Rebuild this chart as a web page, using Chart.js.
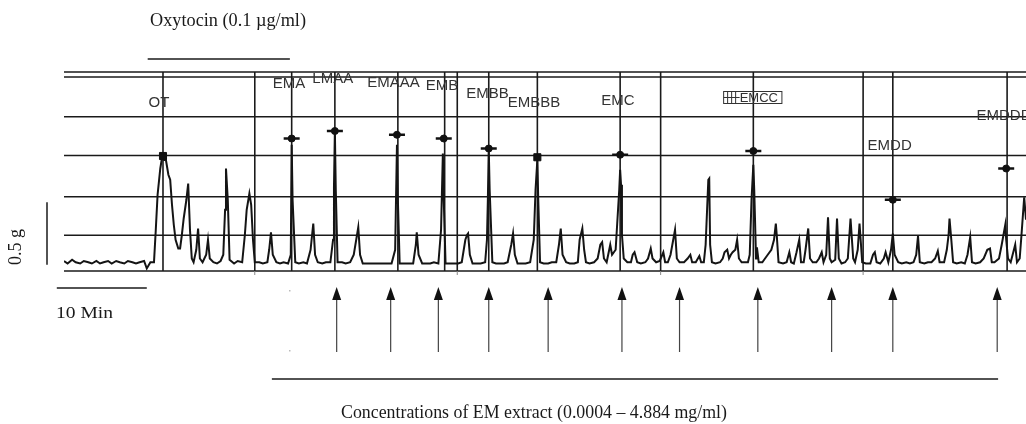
<!DOCTYPE html>
<html>
<head>
<meta charset="utf-8">
<script src="https://cdn.jsdelivr.net/npm/chart.js@4/dist/chart.umd.min.js"></script>
<style>
  html, body { margin: 0; padding: 0; background: #fff; }
  #wrap { width: 1026px; height: 424px; }
</style>
</head>
<body>
<div id="wrap"><canvas id="c" width="1026" height="424"></canvas></div>
<script>
// ---- Data (time in minutes, tension in grams) ----
const traceTime = [
  0,0.4,0.9,1.3,1.8,2.2,2.7,3.1,3.6,4.0,4.4,4.9,5.3,5.8,6.2,6.7,7.1,7.6,8.0,8.4,8.9,9.2,9.6,10.0,
  10.2,10.4,10.7,10.9,11.1,11.3,11.6,11.8,12.0,12.2,12.4,12.7,12.9,13.1,13.3,13.6,13.8,14.0,14.2,14.4,14.7,14.9,15.1,15.4,15.8,16.0,16.2,16.6,17.0,17.4,17.7,17.9,18.0,18.2,18.4,
  18.9,19.3,19.8,20.1,20.3,20.6,20.8,21.0,21.2,21.7,22.1,22.6,22.8,23.0,23.2,23.6,24.0,24.4,24.9,
  25.2,25.3,25.4,25.7,26.1,26.6,27.0,27.4,27.7,27.9,28.2,28.7,29.1,29.6,
  29.9,30.0,30.1,30.2,30.4,30.9,31.3,31.8,32.2,32.7,32.9,33.2,33.8,34.3,34.9,35.4,36.0,36.4,
  36.8,37.0,37.1,37.3,37.8,38.2,38.8,39.1,39.2,39.4,39.8,40.2,40.7,41.1,41.6,
  41.9,42.1,42.2,42.4,42.9,43.3,43.8,44.2,44.6,44.8,44.9,45.1,45.4,45.9,46.3,46.8,
  47.0,47.1,47.2,47.3,47.6,48.0,48.4,48.9,49.3,49.7,49.9,50.1,50.4,50.9,51.3,51.8,
  52.2,52.4,52.6,52.7,52.9,53.3,53.8,54.2,54.7,55.0,55.2,55.4,55.8,56.2,56.7,57.1,
  57.3,57.6,57.8,58.0,58.4,58.9,59.3,59.6,59.8,60.0,60.3,60.7,60.9,61.3,
  61.7,61.8,61.9,62.0,62.2,62.6,63.0,63.2,63.4,63.7,64.1,64.6,64.9,65.2,65.4,65.8,66.2,66.6,66.8,67.1,
  67.4,67.7,67.9,68.1,68.4,68.9,69.3,69.6,69.8,70.2,70.6,70.8,71.1,71.3,71.6,71.7,71.8,72.0,72.4,72.9,
  73.2,73.4,73.7,73.9,74.1,74.3,74.6,74.8,75.0,75.3,75.7,76.0,76.2,76.4,76.6,76.7,76.9,77.0,77.2,77.6,
  77.9,78.2,78.6,78.9,79.1,79.2,79.4,
  79.9,80.3,80.6,80.8,81.1,81.4,81.7,81.9,82.2,82.4,82.7,82.9,83.2,83.6,83.9,84.2,84.4,84.7,84.9,85.1,
  85.3,85.7,85.9,86.1,86.4,86.8,87.1,87.4,87.7,87.9,88.2,88.4,88.7,89.1,89.6,89.9,
  90.1,90.3,90.7,91.1,91.3,91.6,91.9,92.1,92.3,92.7,93.1,93.6,94.0,94.4,94.7,94.9,95.1,95.6,96.0,96.4,
  96.8,97.1,97.3,97.8,98.1,98.3,98.4,98.6,98.8,99.2,99.7,100.1,100.4,100.7,100.9,101.3,101.8,102.2,102.6,102.9,
  103.1,103.4,103.9,104.2,104.6,104.7,104.9,105.2,105.7,105.9,106.2,106.4,106.7,106.9
];
const traceForce = [
  0.08,0.06,0.09,0.07,0.06,0.08,0.07,0.06,0.08,0.06,0.07,0.08,0.06,0.08,0.07,0.06,0.08,0.07,0.06,0.07,0.08,0.02,0.07,0.07,
  0.33,0.61,0.82,0.91,0.89,0.90,0.77,0.73,0.53,0.37,0.25,0.18,0.18,0.29,0.42,0.57,0.70,0.33,0.10,0.07,0.17,0.34,0.10,0.07,0.13,0.25,0.10,0.07,0.06,0.08,0.13,0.49,0.82,0.57,0.09,
  0.06,0.08,0.07,0.29,0.49,0.62,0.53,0.25,0.07,0.07,0.06,0.07,0.17,0.31,0.13,0.07,0.06,0.07,0.06,
  0.13,1.01,0.57,0.07,0.06,0.07,0.06,0.17,0.38,0.13,0.07,0.06,0.07,0.07,
  0.25,0.67,1.12,0.65,0.07,0.07,0.06,0.07,0.13,0.35,0.13,0.06,0.06,0.06,0.06,0.06,0.06,0.06,
  0.17,1.01,0.57,0.06,0.06,0.06,0.06,0.21,0.31,0.13,0.06,0.06,0.06,0.07,0.06,
  0.33,0.94,0.57,0.06,0.06,0.06,0.06,0.07,0.25,0.29,0.30,0.13,0.06,0.06,0.06,0.07,
  0.25,0.57,0.97,0.65,0.07,0.06,0.06,0.06,0.07,0.21,0.30,0.13,0.06,0.06,0.06,0.07,
  0.25,0.65,0.89,0.57,0.07,0.06,0.06,0.07,0.07,0.21,0.34,0.13,0.07,0.06,0.06,0.07,
  0.25,0.34,0.17,0.07,0.06,0.07,0.10,0.21,0.23,0.10,0.07,0.21,0.13,0.17,
  0.65,0.81,0.69,0.29,0.10,0.07,0.07,0.13,0.15,0.07,0.06,0.07,0.10,0.18,0.10,0.07,0.08,0.15,0.07,0.07,
  0.13,0.25,0.33,0.10,0.07,0.07,0.10,0.13,0.07,0.07,0.12,0.07,0.07,0.21,0.73,0.74,0.21,0.07,0.06,0.07,
  0.10,0.15,0.17,0.10,0.13,0.15,0.17,0.25,0.10,0.07,0.07,0.07,0.13,0.57,0.85,0.65,0.10,0.19,0.07,0.07,
  0.10,0.13,0.17,0.25,0.38,0.29,0.07,
  0.06,0.07,0.15,0.07,0.06,0.15,0.25,0.07,0.07,0.17,0.34,0.10,0.07,0.07,0.10,0.15,0.07,0.13,0.43,0.10,
  0.07,0.09,0.42,0.10,0.06,0.07,0.10,0.42,0.10,0.07,0.17,0.38,0.07,0.06,0.06,0.13,
  0.15,0.07,0.06,0.10,0.15,0.07,0.17,0.30,0.13,0.07,0.06,0.07,0.06,0.07,0.13,0.28,0.07,0.06,0.07,0.07,
  0.10,0.16,0.07,0.07,0.17,0.29,0.42,0.25,0.07,0.06,0.07,0.06,0.13,0.27,0.07,0.06,0.07,0.10,0.17,0.18,
  0.07,0.07,0.10,0.21,0.37,0.25,0.10,0.07,0.21,0.07,0.10,0.29,0.59,0.41
];

// horizontal recorder grid lines (grams)
const gridForce = [0, 0.286, 0.594, 0.924, 1.234, 1.552, 1.592];
// vertical event lines (minutes)
const eventTimes = [11.0, 21.2, 25.3, 30.1, 37.1, 42.3, 43.7, 47.2, 52.6, 61.8, 66.3, 76.6, 88.8, 92.1, 104.8];
const axisTickTimes = [21.2, 43.7, 66.3, 88.8];

// peak markers
const markerTimes = [11.0, 25.3, 30.1, 37.0, 42.2, 47.2, 52.6, 61.8, 76.6, 92.1, 104.7];
const markerForce = [0.92, 1.06, 1.12, 1.09, 1.06, 0.98, 0.91, 0.93, 0.96, 0.57, 0.82];
const markerBar   = [false, true, true, true, true, true, false, true, true, true, true];

// event labels
const labelNames = ['OT','EMA','LMAA','EMAAA','EMB','EMBB','EMBBB','EMC','EMCC','EMDD','EMDDD'];
const labelTimes = [9.4, 23.2, 27.6, 33.7, 40.2, 44.7, 49.3, 59.7, 73.3, 89.3, 101.4];
const labelForce = [1.348, 1.496, 1.536, 1.508, 1.48, 1.416, 1.348, 1.36, 1.388, 1.0, 1.24];

// additions of EM extract (arrows, minutes)
const arrowTimes = [30.3, 36.3, 41.6, 47.2, 53.8, 62.0, 68.4, 77.1, 85.3, 92.1, 103.7];

const oxytocinSpan = [9.3, 25.1];
const extractSpan = [23.1, 103.8];
const timeBar = [-0.8, 9.2];     // 10 min
const forceBar = [0.05, 0.55];   // 0.5 g

const oxyText = 'Oxytocin (0.1 \u00b5g/ml)';
const extractText = 'Concentrations of EM extract (0.0004 \u2013 4.884 mg/ml)';
const timeText = '10 Min';
const forceText = '0.5 g';

const tracePoints = traceTime.map((t, i) => ({ x: t, y: traceForce[i] }));
const markerPoints = markerTimes.map((t, i) => ({ x: t, y: markerForce[i] }));

function hline(ctx, x1, x2, y) { ctx.beginPath(); ctx.moveTo(x1, y); ctx.lineTo(x2, y); ctx.stroke(); }
function vline(ctx, x, y1, y2) { ctx.beginPath(); ctx.moveTo(x, y1); ctx.lineTo(x, y2); ctx.stroke(); }
// draw text squeezed/stretched horizontally to a given width, starting at left x
function fitText(ctx, text, left, baseline, width) {
  const m = ctx.measureText(text).width;
  ctx.save();
  ctx.translate(left, baseline);
  ctx.scale(width / m, 1);
  ctx.textAlign = 'left';
  ctx.textBaseline = 'alphabetic';
  ctx.fillText(text, 0, 0);
  ctx.restore();
}

const recorderPlugin = {
  id: 'recorder',
  beforeDatasetsDraw(chart) {
    const { ctx, chartArea: a, scales: { x, y } } = chart;
    ctx.save();
    ctx.strokeStyle = '#1a1a1a';
    ctx.lineWidth = 1.6;
    gridForce.forEach(v => hline(ctx, a.left, a.right, y.getPixelForValue(v)));
    eventTimes.forEach(t => vline(ctx, x.getPixelForValue(t), a.top, a.bottom));
    ctx.strokeStyle = '#888';
    ctx.lineWidth = 1;
    axisTickTimes.forEach(t => vline(ctx, x.getPixelForValue(t), a.bottom, a.bottom + 4));
    ctx.restore();
  },
  afterDraw(chart) {
    const { ctx, scales: { x, y } } = chart;
    ctx.save();
    // event labels
    ctx.font = '15px "Liberation Sans", Arial, sans-serif';
    ctx.fillStyle = '#333';
    ctx.textAlign = 'left';
    ctx.textBaseline = 'middle';
    labelNames.forEach((n, i) => {
      const px = x.getPixelForValue(labelTimes[i]);
      const py = y.getPixelForValue(labelForce[i]);
      if (n === 'EMCC') {
        ctx.save();
        ctx.font = '13px "Liberation Sans", Arial, sans-serif';
        const w = ctx.measureText(n).width;
        ctx.strokeStyle = '#333'; ctx.lineWidth = 1;
        ctx.strokeRect(px, py - 6, w + 20, 12);
        vline(ctx, px + 4, py - 6, py + 6);
        vline(ctx, px + 8, py - 6, py + 6);
        vline(ctx, px + 12, py - 6, py + 6);
        hline(ctx, px, px + 16, py);
        ctx.fillText(n, px + 16, py + 1);
        ctx.restore();
      } else {
        ctx.fillText(n, px, py);
      }
    });

    // serif texts
    ctx.fillStyle = '#1a1a1a';
    ctx.strokeStyle = '#1a1a1a';
    ctx.font = '19px "Liberation Serif", "Times New Roman", serif';
    fitText(ctx, oxyText, 150, 26, 156);
    fitText(ctx, extractText, 341, 418, 386);
    ctx.font = '17px "Liberation Serif", "Times New Roman", serif';
    fitText(ctx, timeText, 56, 318, 57);
    ctx.font = '18px "Liberation Serif", "Times New Roman", serif';
    ctx.save();
    ctx.translate(21, 247);
    ctx.rotate(-Math.PI / 2);
    ctx.textAlign = 'center';
    ctx.textBaseline = 'alphabetic';
    ctx.fillText(forceText, 0, 0);
    ctx.restore();

    // bars
    ctx.lineWidth = 1.5;
    hline(ctx, x.getPixelForValue(oxytocinSpan[0]), x.getPixelForValue(oxytocinSpan[1]), 59);
    hline(ctx, x.getPixelForValue(extractSpan[0]), x.getPixelForValue(extractSpan[1]), 379);
    hline(ctx, x.getPixelForValue(timeBar[0]), x.getPixelForValue(timeBar[1]), 288);
    vline(ctx, 47, y.getPixelForValue(forceBar[0]), y.getPixelForValue(forceBar[1]));

    // arrows
    ctx.strokeStyle = '#444';
    ctx.fillStyle = '#111';
    ctx.lineWidth = 1.2;
    arrowTimes.forEach(t => {
      const px = x.getPixelForValue(t);
      vline(ctx, px, 298, 352);
      ctx.beginPath();
      ctx.moveTo(px, 287);
      ctx.lineTo(px - 4.5, 300);
      ctx.lineTo(px + 4.5, 300);
      ctx.closePath();
      ctx.fill();
    });
    // faint marks
    ctx.fillStyle = '#bbb';
    ctx.fillRect(289, 290, 1.5, 1.5);
    ctx.fillRect(289, 350, 1.5, 1.5);
    ctx.restore();
  }
};

new Chart(document.getElementById('c'), {
  type: 'line',
  data: {
    datasets: [
      {
        data: markerPoints,
        showLine: false,
        pointStyle: 'line',
        pointRadius: ctx => markerBar[ctx.dataIndex] ? 8 : 0,
        pointBorderColor: '#111',
        pointBorderWidth: 2.5,
        order: 0
      },
      {
        data: markerPoints,
        showLine: false,
        pointStyle: ctx => markerBar[ctx.dataIndex] ? 'circle' : 'rect',
        pointRadius: ctx => markerBar[ctx.dataIndex] ? 3.5 : 5,
        pointBackgroundColor: '#111',
        pointBorderColor: '#111',
        pointBorderWidth: 1,
        order: 1
      },
      {
        data: tracePoints,
        borderColor: '#141414',
        borderWidth: 2,
        pointRadius: 0,
        tension: 0,
        fill: false,
        order: 2
      }
    ]
  },
  options: {
    responsive: false,
    animation: false,
    events: [],
    layout: { autoPadding: false, padding: { left: 64, right: 0, top: 72, bottom: 153 } },
    plugins: { legend: { display: false }, tooltip: { enabled: false } },
    scales: {
      x: { type: 'linear', min: 0, max: 106.9, display: false },
      y: { type: 'linear', min: 0, max: 1.592, display: false }
    }
  },
  plugins: [recorderPlugin]
});
</script>
</body>
</html>
